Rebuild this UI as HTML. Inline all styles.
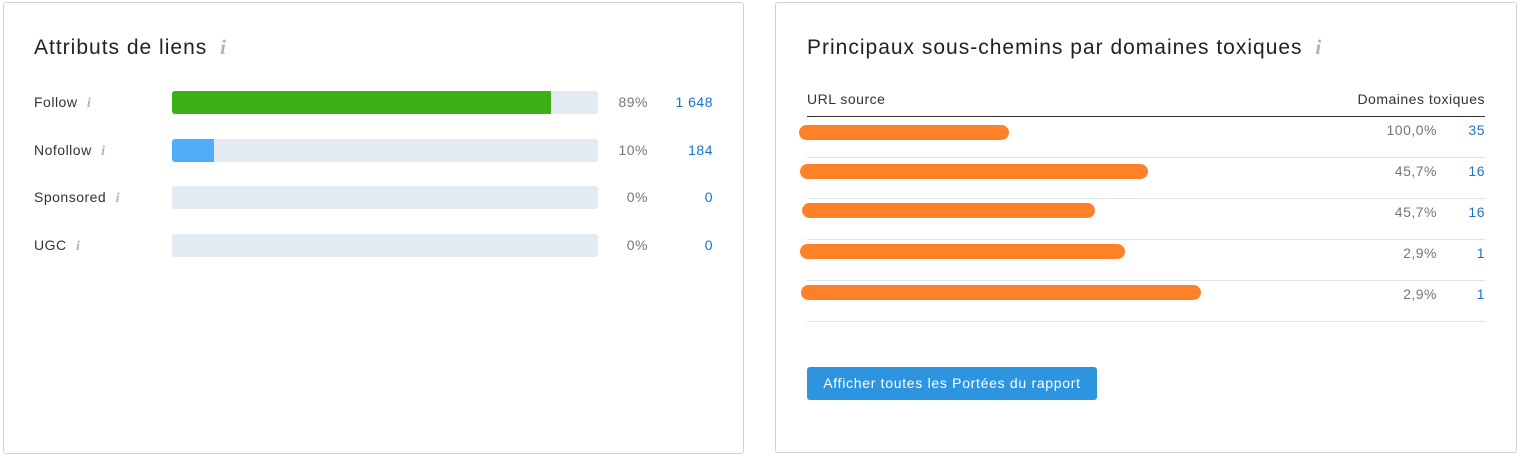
<!DOCTYPE html>
<html><head><meta charset="utf-8"><style>
*{margin:0;padding:0;box-sizing:border-box}
body{width:1524px;height:459px;background:#fff;position:relative;font-family:"Liberation Sans","DejaVu Sans",sans-serif;color:#333;overflow:hidden}
.card{position:absolute;border:1px solid #d1d1d1;border-radius:3px;background:#fff}
.a{position:absolute;white-space:nowrap}
.t{font-size:21px;color:#222;top:35px;letter-spacing:1px}
.i{font-family:"Liberation Serif",serif;font-style:italic;font-weight:bold;color:#b0b4b7;letter-spacing:0}
.lbl{font-size:14px;color:#333;letter-spacing:0.5px}
.bar{position:absolute;left:172px;width:426px;height:23px;background:#e4eaf1;border-radius:3px;overflow:hidden}
.pct{font-size:14px;color:#757575;text-align:right;width:80px;letter-spacing:0.5px}
.num{font-size:14px;color:#1a73c8;text-align:right;width:80px;letter-spacing:0.5px}
.sep{position:absolute;left:807px;width:678px;height:1px;background:#e0e3e5}
.o{position:absolute;height:15px;background:#ff8127;border-radius:8px}
</style></head><body>
<div class="card" style="left:3px;top:2px;width:741px;height:452px"></div>
<div class="card" style="left:775px;top:2px;width:742px;height:451px"></div>

<div class="a t" style="left:34px">Attributs de liens <span class="i" style="font-size:21px;margin-left:6px">i</span></div>

<div class="a lbl" style="left:34px;top:94px">Follow <span class="i" style="margin-left:5px">i</span></div>
<div class="bar" style="top:91px"><div style="width:379px;height:100%;background:#3cb016"></div></div>
<div class="a pct" style="left:568px;top:94px">89%</div>
<div class="a num" style="left:633px;top:94px">1 648</div>

<div class="a lbl" style="left:34px;top:142px">Nofollow <span class="i" style="margin-left:5px">i</span></div>
<div class="bar" style="top:139px"><div style="width:42px;height:100%;background:#4fadf5"></div></div>
<div class="a pct" style="left:568px;top:142px">10%</div>
<div class="a num" style="left:633px;top:142px">184</div>

<div class="a lbl" style="left:34px;top:189px">Sponsored <span class="i" style="margin-left:5px">i</span></div>
<div class="bar" style="top:186px"></div>
<div class="a pct" style="left:568px;top:189px">0%</div>
<div class="a num" style="left:633px;top:189px">0</div>

<div class="a lbl" style="left:34px;top:237px">UGC <span class="i" style="margin-left:5px">i</span></div>
<div class="bar" style="top:234px"></div>
<div class="a pct" style="left:568px;top:237px">0%</div>
<div class="a num" style="left:633px;top:237px">0</div>

<div class="a t" style="left:807px">Principaux sous-chemins par domaines toxiques <span class="i" style="font-size:21px;margin-left:6px">i</span></div>
<div class="a lbl" style="left:807px;top:91px">URL source</div>
<div class="a lbl" style="left:1285px;top:91px;width:200px;text-align:right">Domaines toxiques</div>
<div class="sep" style="top:116px;background:#333"></div>

<div class="a pct" style="left:1357px;top:122px">100,0%</div><div class="a num" style="left:1405px;top:122px">35</div>
<div class="sep" style="top:157px"></div>
<div class="a pct" style="left:1357px;top:163px">45,7%</div><div class="a num" style="left:1405px;top:163px">16</div>
<div class="sep" style="top:198px"></div>
<div class="a pct" style="left:1357px;top:204px">45,7%</div><div class="a num" style="left:1405px;top:204px">16</div>
<div class="sep" style="top:239px"></div>
<div class="a pct" style="left:1357px;top:245px">2,9%</div><div class="a num" style="left:1405px;top:245px">1</div>
<div class="sep" style="top:280px"></div>
<div class="a pct" style="left:1357px;top:286px">2,9%</div><div class="a num" style="left:1405px;top:286px">1</div>
<div class="sep" style="top:321px"></div>

<div class="o" style="left:799px;top:125px;width:210px"></div>
<div class="o" style="left:800px;top:164px;width:348px"></div>
<div class="o" style="left:802px;top:203px;width:293px"></div>
<div class="o" style="left:800px;top:244px;width:325px"></div>
<div class="o" style="left:801px;top:285px;width:400px"></div>

<div class="a" style="left:807px;top:367px;width:290px;height:33px;background:#2d95e0;border-radius:3px;color:#fff;font-size:14px;text-align:center;line-height:33px;letter-spacing:0.7px">Afficher toutes les Portées du rapport</div>
</body></html>
